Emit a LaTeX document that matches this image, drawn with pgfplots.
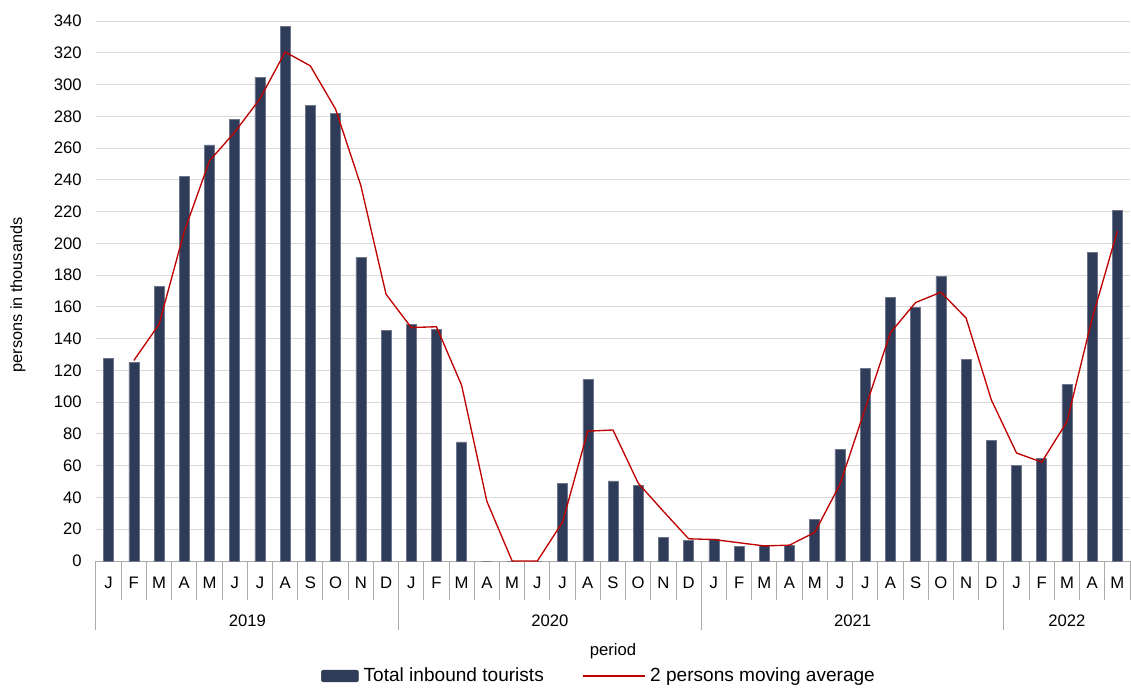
\documentclass[border=0pt]{standalone}
\usepackage{fontspec}
\setmainfont{Liberation Sans}
\usepackage{pgfplots}
\pgfplotsset{compat=1.18}
\definecolor{navy}{RGB}{47,60,89}
\definecolor{mared}{RGB}{192,0,0}
\definecolor{gridc}{RGB}{217,217,217}
\definecolor{sepc}{RGB}{170,170,170}

\begin{document}
\begin{tikzpicture}
\path[use as bounding box] (-72pt,-94.5pt) rectangle (776.25pt,420.75pt);
\begin{axis}[
    at={(0,0)}, anchor=south west,
    scale only axis, width=775.5pt, height=405pt,
    xmin=-0.5, xmax=40.5, ymin=0, ymax=340,
    clip=false,
    axis x line*=bottom, axis y line*=left,
    x axis line style={sepc, line width=0.75pt, -},
    y axis line style={draw=none},
    ytick={0,20,...,340},
    ytick style={draw=none},
    ymajorgrids, grid style={gridc, line width=0.75pt},
    xtick={0,...,40},
    xticklabels={J,F,M,A,M,J,J,A,S,O,N,D,J,F,M,A,M,J,J,A,S,O,N,D,J,F,M,A,M,J,J,A,S,O,N,D,J,F,M,A,M},
    major tick length=0pt,
    minor xtick={-0.5,0.5,...,40.5},
    minor tick length=29.25pt,
    tick align=outside,
    minor x tick style={sepc, line width=0.75pt},
    extra x ticks={-0.5,11.5,23.5,35.5},
    extra x tick labels={},
    extra x tick style={major tick length=51.75pt, tick style={sepc, line width=0.75pt}},
    tick label style={font=\fontsize{12.5}{14}\selectfont},
    /pgf/number format/assume math mode=true,
    xticklabel style={anchor=center, yshift=-16.5pt},
    yticklabel style={anchor=east, inner sep=0pt, xshift=-10.5pt},
    ylabel={persons in thousands},
    ylabel style={at={(axis description cs:-0.0754,0.4926)}, anchor=center, font=\fontsize{12.2}{14}\selectfont},
    xlabel={period},
    xlabel style={at={(axis description cs:0.5,-0.167)}, anchor=center, font=\fontsize{12.5}{14}\selectfont},
    legend style={at={(axis description cs:0.4855,-0.213)}, anchor=center, draw=none,
        font=\fontsize{14.3}{16}\selectfont,
        nodes={inner sep=0pt},
        /tikz/every odd column/.append style={column sep=3.75pt},
        /tikz/every even column/.append style={column sep=28.5pt}},
    legend columns=2,
]
\addplot[ybar, bar width=7.5pt, bar shift=0pt, fill=navy, draw=navy!70!white, line width=0.4pt,
    legend image code/.code={\fill[navy, rounded corners=1.5pt] (0pt,-4.4pt) rectangle (27.75pt,4.4pt);}]
coordinates {
(0,127.5)(1,125)(2,173)(3,242)(4,262)(5,278)(6,304.5)(7,336.5)(8,287)(9,282)(10,191)(11,145)
(12,149)(13,146)(14,75)(15,0)(16,0)(17,0)(18,49)(19,114.5)(20,50.5)(21,47.5)(22,15)(23,13)
(24,14)(25,9)(26,10)(27,10)(28,26)(29,70.5)(30,121.5)(31,166)(32,159.5)(33,179)(34,127)(35,76)
(36,60)(37,64.5)(38,111)(39,194.5)(40,221)
};
\addlegendentry{Total inbound tourists}
\addplot[mared, line width=1pt, mark=none,
    legend image code/.code={\path (0pt,0pt) -- (46.5pt,0pt); \draw[mared, line width=1pt] (0pt,0pt) -- (41.25pt,0pt);}]
coordinates {
(1,126.25)(2,149)(3,207.5)(4,252)(5,270)(6,291)(7,320.5)(8,311.75)(9,284.5)(10,236.5)(11,168)
(12,147)(13,147.5)(14,110.5)(15,37.5)(16,0)(17,0)(18,24.5)(19,81.75)(20,82.5)(21,49)(22,31.25)(23,14)
(24,13.5)(25,11.5)(26,9.5)(27,10)(28,18)(29,48.25)(30,96)(31,143.75)(32,162.75)(33,169.25)(34,153)(35,101.5)
(36,68)(37,62.25)(38,87.75)(39,152.75)(40,207.75)
};
\addlegendentry{2 persons moving average}
\node[font=\fontsize{12.5}{14}\selectfont] at ([yshift=-45pt]axis cs:5.5,0) {2019};
\node[font=\fontsize{12.5}{14}\selectfont] at ([yshift=-45pt]axis cs:17.5,0) {2020};
\node[font=\fontsize{12.5}{14}\selectfont] at ([yshift=-45pt]axis cs:29.5,0) {2021};
\node[font=\fontsize{12.5}{14}\selectfont] at ([yshift=-45pt]axis cs:38,0) {2022};
\end{axis}
\end{tikzpicture}
\end{document}
